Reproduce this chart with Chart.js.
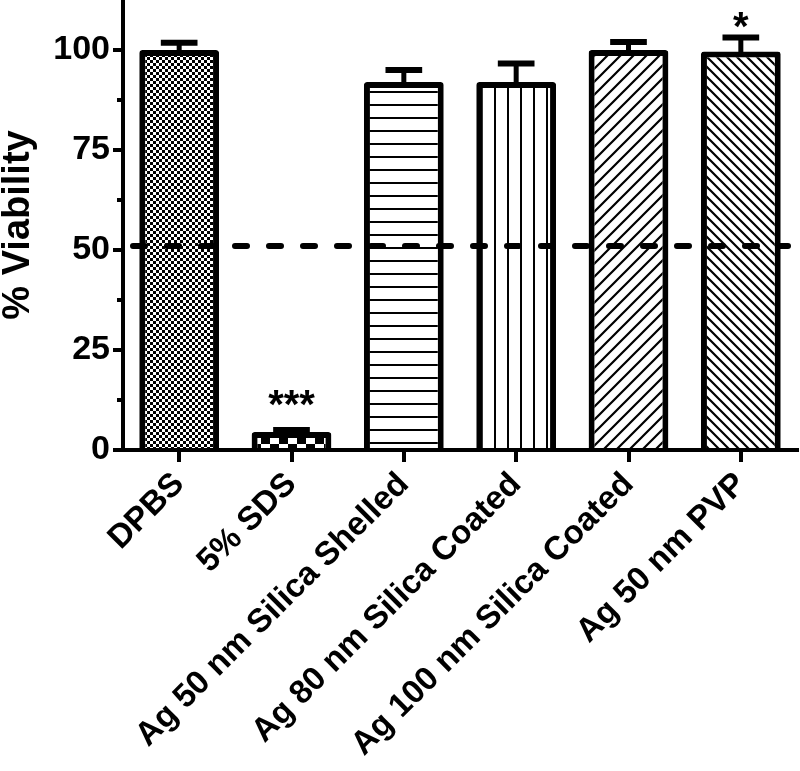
<!DOCTYPE html>
<html>
<head>
<meta charset="utf-8">
<script src="https://cdn.jsdelivr.net/npm/chart.js@4"></script>
<style>
  html, body { margin: 0; padding: 0; background: #fff; }
  #wrap { width: 800px; height: 771px; }
</style>
</head>
<body>
<div id="wrap"><canvas id="viabilityChart" width="800" height="771"></canvas></div>
<script>
// data
const categories = ['DPBS', '5% SDS', 'Ag 50 nm Silica Shelled', 'Ag 80 nm Silica Coated', 'Ag 100 nm Silica Coated', 'Ag 50 nm PVP'];
const viability = [100, 4.5, 92, 92, 100, 99.6];
const errorSD = [1.8, 0.5, 3, 4.6, 2, 3.5];
const significance = ['', '***', '', '', '', '*'];
const significanceAt = [null, 8.5, null, null, null, 103];
const yTicks = [0, 25, 50, 75, 100];
const yMinorTicks = [12.5, 37.5, 62.5, 87.5];
const thresholdValue = 51;

const FONT = '"Liberation Sans", Arial, Helvetica, sans-serif';

// small tiles for the hatch fills
function makePattern(w, h, draw) {
    const c = document.createElement('canvas');
    c.width = w;
    c.height = h;
    const g = c.getContext('2d');
    g.fillStyle = '#fff';
    g.fillRect(0, 0, w, h);
    g.fillStyle = '#000';
    g.strokeStyle = '#000';
    draw(g, w, h);
    return document.createElement('canvas').getContext('2d').createPattern(c, 'repeat');
}

function diagonal(g, s, lw, forward) {
    g.lineWidth = lw;
    g.beginPath();
    if (forward) {
        g.moveTo(-1, s + 1); g.lineTo(s + 1, -1);
        g.moveTo(-2, 2); g.lineTo(2, -2);
        g.moveTo(s - 2, s + 2); g.lineTo(s + 2, s - 2);
    } else {
        g.moveTo(-1, -1); g.lineTo(s + 1, s + 1);
        g.moveTo(s - 2, -2); g.lineTo(s + 2, 2);
        g.moveTo(-2, s - 2); g.lineTo(2, s + 2);
    }
    g.stroke();
}

const fills = [
    makePattern(6, 6, g => { g.fillRect(0, 0, 3, 3); g.fillRect(3, 3, 3, 3); }),
    makePattern(18, 12, g => { g.fillRect(0, 0, 9, 6); g.fillRect(9, 6, 9, 6); }),
    makePattern(13, 13, g => g.fillRect(0, 0, 13, 2)),
    makePattern(13, 13, g => g.fillRect(0, 0, 2, 13)),
    makePattern(13, 13, (g, w) => diagonal(g, w, 2.2, true)),
    makePattern(10, 10, (g, w) => diagonal(g, w, 2.2, false))
];

const overlayPlugin = {
    id: 'overlay',
    afterDatasetsDraw(chart) {
        const { ctx, chartArea } = chart;
        const y = chart.scales.y;
        const meta = chart.getDatasetMeta(0);
        ctx.save();
        ctx.strokeStyle = '#000';
        ctx.lineCap = 'butt';

        // error bars, upper half only
        meta.data.forEach((bar, i) => {
            const top = y.getPixelForValue(viability[i] + errorSD[i]);
            const half = bar.width * 0.23;
            ctx.lineWidth = 5;
            ctx.beginPath();
            ctx.moveTo(bar.x, bar.y + 3);
            ctx.lineTo(bar.x, top);
            ctx.stroke();
            ctx.lineWidth = 6;
            ctx.beginPath();
            ctx.moveTo(bar.x - half, top);
            ctx.lineTo(bar.x + half, top);
            ctx.stroke();
        });

        // dashed 50% line
        const yy = y.getPixelForValue(thresholdValue);
        ctx.lineWidth = 6;
        ctx.lineCap = 'round';
        ctx.setLineDash([12, 22]);
        ctx.beginPath();
        ctx.moveTo(chartArea.left + 10, yy);
        ctx.lineTo(chartArea.right - 9, yy);
        ctx.stroke();
        ctx.setLineDash([]);

        // minor ticks on the y axis
        ctx.lineCap = 'butt';
        ctx.lineWidth = 4;
        yMinorTicks.forEach(v => {
            const py = y.getPixelForValue(v);
            ctx.beginPath();
            ctx.moveTo(chartArea.left - 6, py);
            ctx.lineTo(chartArea.left, py);
            ctx.stroke();
        });

        // significance stars
        ctx.fillStyle = '#000';
        ctx.font = 'bold 40px ' + FONT;
        ctx.textAlign = 'center';
        ctx.textBaseline = 'alphabetic';
        meta.data.forEach((bar, i) => {
            if (!significance[i]) return;
            ctx.fillText(significance[i], bar.x, y.getPixelForValue(significanceAt[i]) + 2);
        });
        ctx.restore();
    }
};

new Chart(document.getElementById('viabilityChart'), {
    type: 'bar',
    data: {
        labels: categories,
        datasets: [{
            data: viability,
            backgroundColor: fills,
            borderColor: '#000',
            borderWidth: 6,
            borderRadius: 3,
            borderSkipped: 'start',
            barPercentage: 0.71,
            categoryPercentage: 1
        }]
    },
    options: {
        responsive: false,
        devicePixelRatio: 1,
        animation: false,
        layout: { padding: { top: 0, right: 3, bottom: 0, left: 0 } },
        plugins: {
            legend: { display: false },
            tooltip: { enabled: false }
        },
        scales: {
            x: {
                grid: { display: true, drawOnChartArea: false, offset: false, tickLength: 12, lineWidth: 4, color: '#000' },
                border: { display: true, width: 4, color: '#000' },
                ticks: {
                    color: '#000',
                    autoSkip: false,
                    minRotation: 45,
                    maxRotation: 45,
                    padding: 3,
                    font: { family: FONT, size: 33, weight: 'bold' }
                },
                afterFit(scale) {
                    scale.height = 321;
                    scale.paddingLeft = 0;
                    scale.paddingRight = 0;
                }
            },
            y: {
                min: 0,
                max: 112.5,
                afterBuildTicks(scale) {
                    scale.ticks = yTicks.map(v => ({ value: v }));
                },
                grid: { drawOnChartArea: false, tickLength: 10, lineWidth: 4, color: '#000' },
                border: { display: true, width: 4, color: '#000' },
                ticks: {
                    color: '#000',
                    padding: 3,
                    font: { family: FONT, size: 34, weight: 'bold' }
                },
                title: {
                    display: true,
                    text: '% Viability',
                    color: '#000',
                    padding: 0,
                    font: { family: FONT, size: 38, weight: 'bold', lineHeight: 1 }
                },
                afterFit(scale) {
                    scale.width = 123;
                    scale.paddingTop = 0;
                    scale.paddingBottom = 0;
                }
            }
        }
    },
    plugins: [overlayPlugin]
});
</script>
</body>
</html>
